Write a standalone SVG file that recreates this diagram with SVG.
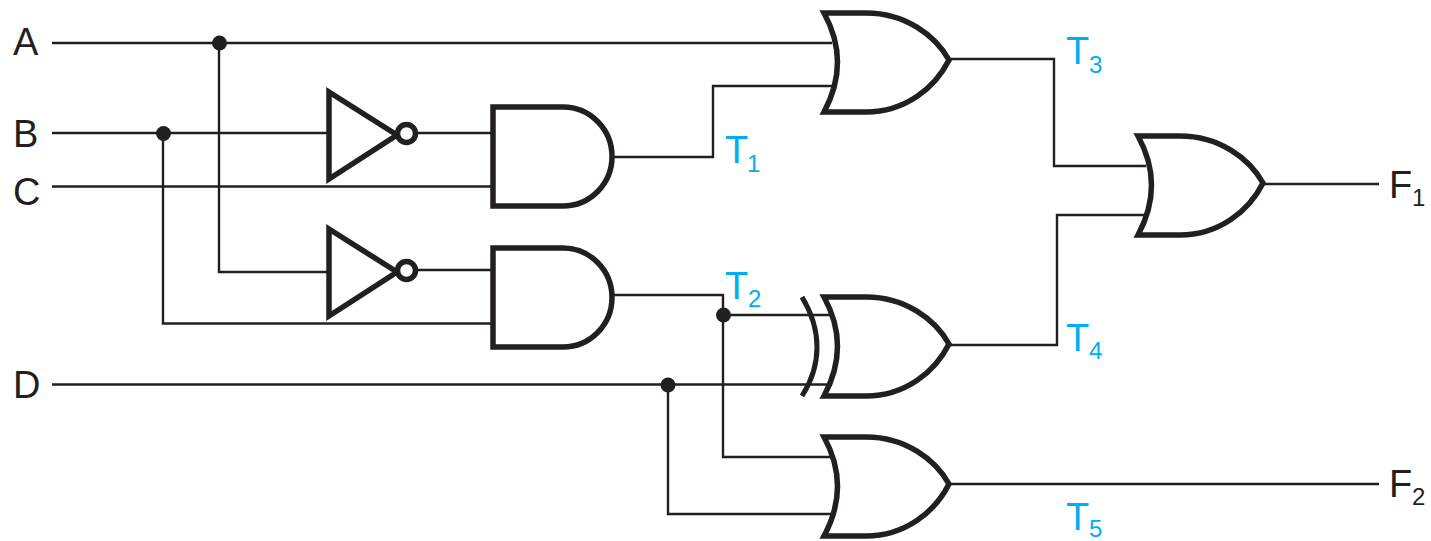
<svg xmlns="http://www.w3.org/2000/svg" width="1431" height="541" viewBox="0 0 1431 541">
<style>
.w{fill:none;stroke:#231f20;stroke-width:2.4}
.g{fill:#fff;stroke:#231f20;stroke-width:5.500;stroke-miterlimit:8}
.a{fill:none;stroke:#231f20;stroke-width:5}
.d{fill:#231f20}
.t{font-family:"Liberation Sans",Arial,sans-serif;font-size:38px;fill:#231f20}
.s{font-family:"Liberation Sans",Arial,sans-serif;font-size:24px;fill:#231f20}
.c{fill:#00aeef}
</style>
<defs>
<path id="or" d="M824,13H866C905,13 935,35 949,60C935,88 905,112 866,112H824Q851,62 824,13Z"/>
<path id="and" d="M493,107H563A49,49.500 0 0 1 563,206H493Z"/>
<path id="inv" d="M329,92L397,135L329,179Z"/>
</defs>
<g id="connectors">
<path class="w" d="M52,43H832M219,43V272H329"/>
<path class="w" d="M52,133H329M163,133V323.500H493M415,133H493"/>
<path class="w" d="M52,186.500H493"/>
<path class="w" d="M415,270H493"/>
<path class="w" d="M612,157H713V86H832"/>
<path class="w" d="M612,295H723V457H832M723,315H830"/>
<path class="w" d="M52,384.500H828M668,384V514H832"/>
<path class="w" d="M949,59H1054V166H1146"/>
<path class="w" d="M949,345H1057V215H1146"/>
<path class="w" d="M1263,184H1379"/>
<path class="w" d="M949,484H1379"/>
</g>
<g id="junctions">
<circle class="d" cx="219.500" cy="43" r="7.500"/>
<circle class="d" cx="163.500" cy="133.500" r="7.500"/>
<circle class="d" cx="723.500" cy="315" r="7.500"/>
<circle class="d" cx="668" cy="385" r="7.500"/>
</g>
<g id="not1"><use href="#inv" class="g"/><circle class="g" cx="406.500" cy="133.500" r="9"/></g>
<g id="not2"><use href="#inv" class="g" transform="translate(0,137)"/><circle class="g" cx="406.500" cy="270.500" r="9"/></g>
<g id="and1"><use href="#and" class="g"/></g>
<g id="and2"><use href="#and" class="g" transform="translate(0,141)"/></g>
<g id="or1"><use href="#or" class="g"/></g>
<g id="or2"><use href="#or" class="g" transform="translate(314,123)"/></g>
<g id="xor1"><use href="#or" class="g" transform="translate(0,284)"/><path class="a" d="M802,297C822,330 822,365 802,396"/></g>
<g id="or3"><use href="#or" class="g" transform="translate(0,424)"/></g>
<g id="labels">
<text class="t" x="13" y="55">A</text>
<text class="t" x="13" y="147">B</text>
<text class="t" x="13" y="205">C</text>
<text class="t" x="13" y="398">D</text>
<text class="t" x="1389" y="198">F</text><text class="s" x="1412" y="206">1</text>
<text class="t" x="1389" y="497">F</text><text class="s" x="1412" y="505">2</text>
<text class="t c" x="725" y="163">T</text><text class="s c" x="747" y="172">1</text>
<text class="t c" x="725" y="299">T</text><text class="s c" x="748" y="307">2</text>
<text class="t c" x="1066" y="64">T</text><text class="s c" x="1089" y="73">3</text>
<text class="t c" x="1066" y="351">T</text><text class="s c" x="1089" y="359">4</text>
<text class="t c" x="1066" y="530">T</text><text class="s c" x="1089" y="537">5</text>
</g>
</svg>
